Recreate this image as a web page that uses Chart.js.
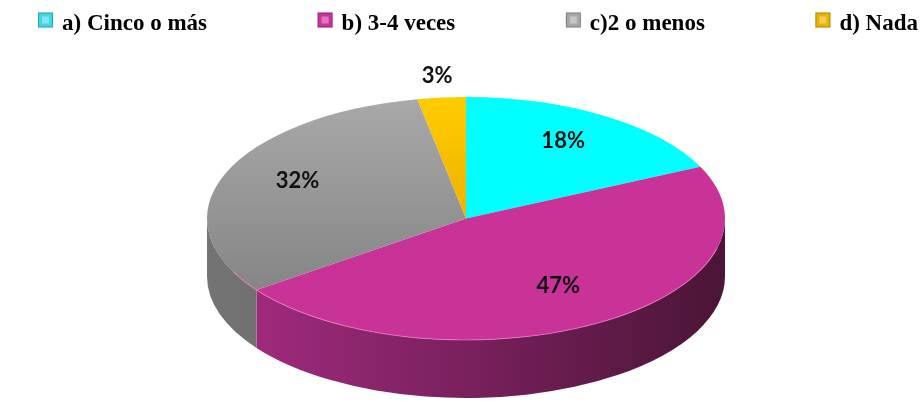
<!DOCTYPE html>
<html><head><meta charset="utf-8">
<script src="https://cdn.jsdelivr.net/npm/chart.js@4/dist/chart.umd.min.js"></script>
<style>html,body{margin:0;padding:0;background:#fff;} #wrap{width:923px;height:401px;}</style>
</head><body><div id="wrap"><canvas id="c" width="923" height="401"></canvas></div>
<script>
const categories = ['a) Cinco o más', 'b) 3-4 veces', 'c)2 o menos', 'd) Nada'];
const values = [18, 47, 32, 3];
const valueLabels = ['18%', '47%', '32%', '3%'];

const topColors = [['#00FFFF', '#00FFFF'], ['#C93296', '#C93296'], ['#A9A9A9', '#7C7C7C'], ['#FFCC00', '#D99A00']];
const sideColors = [['#00B8B8', '#007070'], ['#A82C84', '#4A1536'], ['#737373', '#5E5E5E'], ['#C89600', '#8A6800']];
const legendColors = ['#3DD8E6', '#CC3399', '#A8A8A8', '#E8B400'];

const pie3d = {
  id: 'pie3d',
  geom(chart) {
    const el = chart.getDatasetMeta(0).data[0];
    const ca = chart.chartArea;
    const depth = chart.options.plugins.pie3d.depth;
    const rx = (ca.right - ca.left) / 2;
    const ry = (ca.bottom - ca.top - depth) / 2;
    return { cx: (ca.left + ca.right) / 2, cy: ca.top + ry, rx, ry, depth, r: el.outerRadius, ox: el.x, oy: el.y };
  },
  beforeDatasetsDraw(chart) {
    const ctx = chart.ctx;
    const g = this.geom(chart);
    const meta = chart.getDatasetMeta(0);
    meta.data.forEach((el, i) => {
      const s = el.startAngle, e = el.endAngle;
      for (let k = -1; k <= 2; k++) {
        const lo = Math.max(s, 2 * Math.PI * k), hi = Math.min(e, 2 * Math.PI * k + Math.PI);
        if (hi <= lo) continue;
        const grad = ctx.createLinearGradient(g.cx - g.rx, 0, g.cx + g.rx, 0);
        grad.addColorStop(0, sideColors[i][0]);
        grad.addColorStop(1, sideColors[i][1]);
        ctx.beginPath();
        ctx.ellipse(g.cx, g.cy, g.rx, g.ry, 0, lo, hi, false);
        ctx.lineTo(g.cx + g.rx * Math.cos(hi), g.cy + g.ry * Math.sin(hi) + g.depth);
        ctx.ellipse(g.cx, g.cy + g.depth, g.rx, g.ry, 0, hi, lo, true);
        ctx.closePath();
        ctx.fillStyle = grad;
        ctx.fill();
      }
    });
    ctx.save();
    ctx.translate(g.cx, g.cy);
    ctx.scale(g.rx / g.r, g.ry / g.r);
    ctx.translate(-g.ox, -g.oy);
  },
  afterDatasetsDraw(chart) {
    const ctx = chart.ctx;
    ctx.restore();
    const g = this.geom(chart);
    ctx.beginPath();
    ctx.ellipse(g.cx, g.cy, g.rx, g.ry, 0, 0.25, Math.PI - 0.45, false);
    ctx.strokeStyle = 'rgba(240,120,200,0.7)';
    ctx.lineWidth = 1.2;
    ctx.stroke();
    const meta = chart.getDatasetMeta(0);
    ctx.font = 'bold 22px Lato';
    ctx.fillStyle = '#111';
    ctx.textAlign = 'center';
    ctx.textBaseline = 'middle';
    meta.data.forEach((el, i) => {
      const mid = (el.startAngle + el.endAngle) / 2;
      const outside = values[i] < 5;
      const f = outside ? 1.18 : 0.7;
      const dy = outside ? 0 : -6;
      ctx.fillText(valueLabels[i], g.cx + g.rx * f * Math.cos(mid), g.cy + g.ry * f * Math.sin(mid) + dy);
    });
  },
  afterDraw(chart) {
    const ctx = chart.ctx;
    const o = chart.options.plugins.pie3d;
    ctx.save();
    ctx.font = 'bold 23px "Liberation Serif"';
    const widths = categories.map(t => o.box + o.boxGap + ctx.measureText(t).width);
    const total = widths.reduce((a, b) => a + b, 0);
    const gap = (o.legendRight - o.legendLeft - total) / (categories.length - 1);
    let x = o.legendLeft;
    categories.forEach((t, i) => {
      ctx.fillStyle = legendColors[i];
      ctx.fillRect(x, o.legendY - o.box / 2, o.box, o.box);
      ctx.strokeStyle = 'rgba(0,0,0,0.25)';
      ctx.lineWidth = 1;
      ctx.strokeRect(x + 0.5, o.legendY - o.box / 2 + 0.5, o.box - 1, o.box - 1);
      ctx.fillStyle = 'rgba(255,255,255,0.35)';
      ctx.fillRect(x + 4, o.legendY - o.box / 2 + 4, o.box - 8, o.box - 8);
      ctx.fillStyle = '#000';
      ctx.textBaseline = 'alphabetic';
      ctx.textAlign = 'left';
      ctx.fillText(t, x + o.box + o.boxGap, o.legendY + 10);
      x += widths[i] + gap;
    });
    ctx.restore();
  }
};

function topFill(i) {
  return (c) => {
    const chart = c.chart, ca = chart.chartArea;
    if (!ca) return topColors[i][0];
    const gr = chart.ctx.createLinearGradient(0, ca.top, 0, ca.bottom);
    gr.addColorStop(0, topColors[i][0]);
    gr.addColorStop(1, topColors[i][1]);
    return gr;
  };
}

new Chart(document.getElementById('c'), {
  type: 'pie',
  data: {
    labels: categories,
    datasets: [{
      data: values,
      backgroundColor: (c) => topFill(c.dataIndex)(c),
      borderWidth: 0,
      hoverOffset: 0,
      clip: false
    }]
  },
  options: {
    responsive: false,
    animation: false,
    events: [],
    layout: { padding: { top: 97, bottom: 3, left: 207, right: 198 } },
    plugins: {
      legend: { display: false },
      tooltip: { enabled: false },
      pie3d: { depth: 58, box: 15, boxGap: 9, legendLeft: 38, legendRight: 918, legendY: 20 }
    }
  },
  plugins: [pie3d]
});
</script></body></html>
